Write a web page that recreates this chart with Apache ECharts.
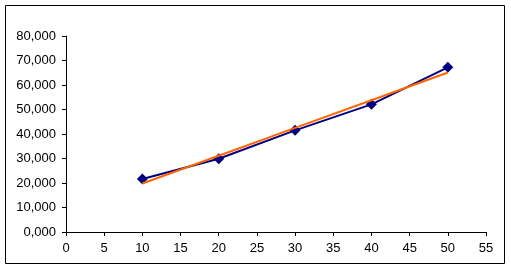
<!DOCTYPE html>
<html><head><meta charset="utf-8">
<script src="https://cdn.jsdelivr.net/npm/echarts@6/dist/echarts.min.js"></script>
<style>html,body{margin:0;padding:0;background:#fff}#c{width:511px;height:270px}</style>
</head><body><div id="c"></div>
<script>
const xValues = [10, 20, 30, 40, 50];
const seriesValues = [21.6, 29.9, 41.5, 52.1, 67.2];
const trendValues = [19.8, 31.1, 42.5, 53.8, 65.1];
const yTicks = [0, 10, 20, 30, 40, 50, 60, 70, 80];
const xTicks = [0, 5, 10, 15, 20, 25, 30, 35, 40, 45, 50, 55];

const chart = echarts.init(document.getElementById('c'), null, {renderer: 'canvas'});
const font = 'Liberation Sans, Arial, sans-serif';
chart.setOption({
  animation: false,
  graphic: [{type: 'rect', shape: {x: 5.5, y: 5.5, width: 499, height: 258}, style: {fill: 'none', stroke: '#000', lineWidth: 1}, z: 100}],
  grid: {left: 66, right: 25, top: 36, bottom: 38},
  xAxis: {
    type: 'value', min: 0, max: 55, interval: 5,
    axisLine: {lineStyle: {color: '#000'}},
    axisTick: {show: true, length: 4, lineStyle: {color: '#000'}},
    axisLabel: {color: '#000', fontSize: 13, fontFamily: font, margin: 10},
    splitLine: {show: false}
  },
  yAxis: {
    type: 'value', min: 0, max: 80, interval: 10,
    axisLine: {show: true, lineStyle: {color: '#000'}},
    axisTick: {show: true, length: 4, lineStyle: {color: '#000'}},
    axisLabel: {color: '#000', fontSize: 13, fontFamily: font, margin: 10,
      formatter: v => v.toFixed(3).replace('.', ',')},
    splitLine: {show: false}
  },
  series: [
    {type: 'line', data: xValues.map((x, i) => [x, seriesValues[i]]),
     symbol: 'diamond', symbolSize: 11, showSymbol: true,
     lineStyle: {color: '#000080', width: 2}, itemStyle: {color: '#000080'}, z: 2},
    {type: 'line', data: xValues.map((x, i) => [x, trendValues[i]]),
     symbol: 'none', lineStyle: {color: '#FF6600', width: 2}, z: 3}
  ]
});
</script></body></html>
